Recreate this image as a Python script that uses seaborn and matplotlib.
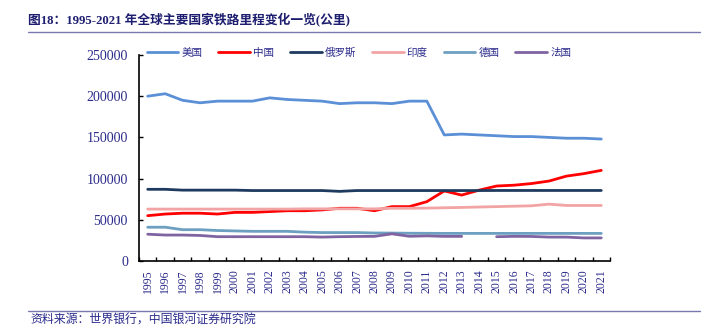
import numpy as np
import pandas as pd
import matplotlib
matplotlib.use("Agg")
import matplotlib.pyplot as plt
import seaborn as sns

years = list(range(1995, 2022))

usa = [200000, 203000, 195000, 192000, 194000, 194000, 194000, 198000, 196000, 195000,
       194000, 191000, 192000, 192000, 191000, 194000, 194000, 153000, 154000, 153000,
       152000, 151000, 151000, 150000, 149000, 149000, 148000]
china = [55000, 57000, 58000, 58000, 57000, 59000, 59000, 60000, 61000, 61000,
         62000, 64000, 64000, 61000, 66000, 66000, 72000, 85000, 80000, 86000,
         91000, 92000, 94000, 97000, 103000, 106000, 110000]
russia = [87000, 87000, 86000, 86000, 86000, 86000, 85500, 85500, 85500, 85500,
          85500, 84500, 85500, 85500, 85500, 85500, 85500, 85500, 85500, 85500,
          85600, 85600, 85600, 85600, 85600, 85600, 85600]
india = [63000, 63000, 63000, 63000, 63000, 63000, 63000, 63000, 63000, 63300,
         63300, 63300, 63300, 63300, 64000, 64000, 64200, 64600, 65000, 65500,
         66000, 66500, 67000, 69000, 67400, 67400, 67400]
germany = [41000, 41000, 38000, 38000, 37000, 36500, 36000, 36000, 36000, 35000,
           34500, 34500, 34500, 34000, 33900, 33700, 33600, 33500, 33500, 33500,
           33500, 33500, 33500, 33500, 33500, 33500, 33500]
france = [32500, 31500, 31500, 31000, 29500, 29500, 29500, 29500, 29500, 29500,
          29000, 29500, 29800, 29900, 33000, 30000, 30500, 29900, 29900, np.nan,
          29500, 29900, 29800, 29000, 29000, 28000, 28000]

series_names = ["美国", "中国", "俄罗斯", "印度", "德国", "法国"]
series_values = [usa, china, russia, india, germany, france]
series_colors = ["#5B8FD6", "#FF0000", "#1F3A5F", "#F2A3A3", "#6C9FC0", "#8064A2"]

title_text = "图18：1995-2021 年全球主要国家铁路里程变化一览(公里)"
source_text = "资料来源：世界银行，中国银河证券研究院"

sns.set_theme(style="white")
plt.rcParams["font.family"] = ["Liberation Serif", "Noto Sans CJK SC"]
plt.rcParams["axes.unicode_minus"] = False

text_blue = "#2B2B8C"

fig = plt.figure(figsize=(7.05, 3.27), dpi=100)
ax = fig.add_axes([139 / 705, 1 - 261 / 327, (610 - 139) / 705, (261 - 55) / 327])

for name, vals, col in zip(series_names, series_values, series_colors):
    df = pd.DataFrame({"year": years, "km": vals})
    # split into contiguous runs so missing years leave a gap
    valid = df["km"].notna()
    grp = (~valid).cumsum()
    first = True
    for _, seg in df[valid].groupby(grp[valid]):
        sns.lineplot(data=seg, x="year", y="km", ax=ax, color=col, linewidth=2.0,
                     label=name if first else None, legend=False)
        first = False

ax.set_xlim(1994.5, 2021.5)
ax.set_ylim(0, 250000)
ax.set_yticks(np.arange(0, 250001, 50000))
ax.set_yticklabels([f"{v:d}" for v in range(0, 250001, 50000)])
ax.set_xticks(years)
ax.set_xticklabels([str(y) for y in years], rotation=90)
ax.set_xticks(np.arange(1994.5, 2022, 1), minor=True)
ax.set_xlabel("")
ax.set_ylabel("")

for side in ["top", "right"]:
    ax.spines[side].set_visible(False)
for side in ["left", "bottom"]:
    ax.spines[side].set_color("black")
    ax.spines[side].set_linewidth(1.2)

ax.tick_params(axis="y", which="major", direction="in", length=3, width=1,
               colors="black", labelcolor=text_blue, labelsize=10, pad=8, left=True)
ax.tick_params(axis="x", which="major", length=0, labelcolor=text_blue,
               labelsize=8.5, pad=6)
ax.tick_params(axis="x", which="minor", direction="in", length=3, width=1,
               colors="black", bottom=True)

handles, labels = ax.get_legend_handles_labels()
fig.legend(handles, labels, loc="center", bbox_to_anchor=(0.509, 1 - 52.5 / 327),
           ncol=6, frameon=False, fontsize=7.6, handlelength=3.0,
           columnspacing=1.5, handletextpad=0.3, labelcolor=text_blue)

fig.text(28 / 705, 1 - 19 / 327, title_text, fontsize=9.2, fontweight="bold",
         color="#1E1E70", va="center", ha="left")
fig.add_artist(plt.Line2D([28 / 705, 700 / 705], [1 - 32 / 327, 1 - 32 / 327],
                          color="#7A78B0", linewidth=1.0))
fig.add_artist(plt.Line2D([28 / 705, 700 / 705], [1 - 311 / 327, 1 - 311 / 327],
                          color="#7A78B0", linewidth=1.0))
fig.text(30 / 705, 1 - 320.5 / 327, source_text, fontsize=8.6, style="italic",
         color=text_blue, va="center", ha="left")

fig.savefig("out.png", dpi=100)
